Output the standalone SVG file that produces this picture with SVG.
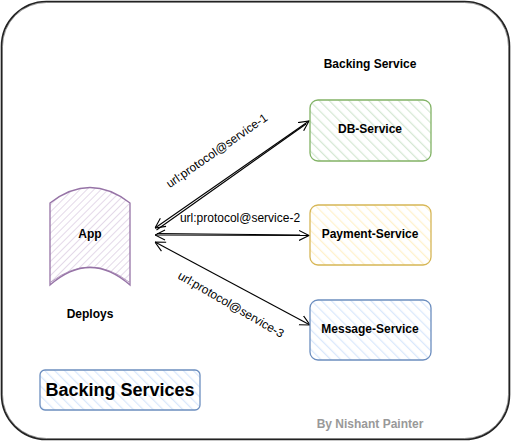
<svg xmlns="http://www.w3.org/2000/svg" width="511" height="441" viewBox="0 0 511 441">
<defs>
<style>
text{font-family:"Liberation Sans",Arial,sans-serif;fill:#000}
.b{font-weight:bold;font-size:12px}
.l{font-size:12px}
.box{stroke-width:1.3}
.edge{fill:none;stroke:#000;stroke-width:1.1}
</style>
<pattern id="hg" patternUnits="userSpaceOnUse" width="7" height="7" patternTransform="rotate(-45)"><rect width="7" height="7" fill="#fff"/><line x1="0" y1="0" x2="0" y2="7" stroke="#d5e8d4" stroke-width="2.5"/></pattern>
<pattern id="hy" patternUnits="userSpaceOnUse" width="7" height="7" patternTransform="rotate(-45)"><rect width="7" height="7" fill="#fff"/><line x1="0" y1="0" x2="0" y2="7" stroke="#fff2cc" stroke-width="2.5"/></pattern>
<pattern id="hb" patternUnits="userSpaceOnUse" width="7" height="7" patternTransform="rotate(-45)"><rect width="7" height="7" fill="#fff"/><line x1="0" y1="0" x2="0" y2="7" stroke="#dae8fc" stroke-width="2.5"/></pattern>
<pattern id="hp" patternUnits="userSpaceOnUse" width="5" height="5" patternTransform="rotate(45)"><rect width="5" height="5" fill="#fff"/><line x1="0" y1="0" x2="0" y2="5" stroke="#e1d5e7" stroke-width="1.8"/></pattern>
<marker id="ae" markerWidth="12" markerHeight="12" refX="10" refY="5" orient="auto" markerUnits="userSpaceOnUse" viewBox="0 0 12 10"><path d="M0,0 L10,5 L0,10" fill="none" stroke="#000" stroke-width="1.1"/></marker>
<marker id="as" markerWidth="12" markerHeight="12" refX="0" refY="5" orient="auto" markerUnits="userSpaceOnUse" viewBox="0 0 12 10"><path d="M10,0 L0,5 L10,10" fill="none" stroke="#000" stroke-width="1.1"/></marker>
</defs>
<g id="frame">
<rect x="1.5" y="1.5" width="508" height="438" rx="45" ry="45" fill="#fff" stroke="#222" stroke-width="1.6"/>
<rect x="2.5" y="2.5" width="506" height="436" rx="44" ry="44" fill="none" stroke="#555" stroke-width="0.6"/>
</g>
<g id="edges">
<line class="edge" x1="155" y1="228" x2="309" y2="121" marker-start="url(#as)" marker-end="url(#ae)"/>
<line class="edge" x1="156.5" y1="230" x2="306" y2="124" stroke-width="0.6"/>
<line class="edge" x1="155" y1="235" x2="309" y2="235.5" marker-start="url(#as)" marker-end="url(#ae)"/>
<line class="edge" x1="157" y1="233.5" x2="300" y2="235" stroke-width="0.6"/>
<line class="edge" x1="155" y1="242" x2="310" y2="325" marker-start="url(#as)" marker-end="url(#ae)"/>
<text class="l" transform="translate(219,154) rotate(-34.8)" text-anchor="middle">url:protocol@service-1</text>
<text class="l" x="240" y="222" text-anchor="middle">url:protocol@service-2</text>
<text class="l" transform="translate(229,308) rotate(30)" text-anchor="middle">url:protocol@service-3</text>
</g>
<g id="app">
<path d="M50,203 Q90,172 130,203 L130,285 Q90,250 50,285 Z" fill="url(#hp)" stroke="#9673a6" stroke-width="1.3"/>
<path d="M51,282 Q90,252 129,282" fill="none" stroke="#9673a6" stroke-width="0.7"/>
<text class="b" x="90" y="238" text-anchor="middle">App</text>
</g>
<g id="deploys"><text class="b" x="90" y="318" text-anchor="middle">Deploys</text></g>
<g id="backing-service-label"><text class="b" x="370" y="68" text-anchor="middle">Backing Service</text></g>
<g id="db">
<rect class="box" x="310" y="100" width="121" height="61" rx="8" fill="url(#hg)" stroke="#82b366"/>
<text class="b" x="370" y="133" text-anchor="middle">DB-Service</text>
</g>
<g id="payment">
<rect class="box" x="310" y="205" width="121" height="60" rx="8" fill="url(#hy)" stroke="#d6b656"/>
<text class="b" x="370" y="238" text-anchor="middle">Payment-Service</text>
</g>
<g id="message">
<rect class="box" x="310" y="300" width="121" height="60" rx="8" fill="url(#hb)" stroke="#6c8ebf"/>
<text class="b" x="370" y="333" text-anchor="middle">Message-Service</text>
</g>
<g id="title">
<rect class="box" x="40" y="370" width="160" height="40" rx="5" fill="url(#hb)" stroke="#6c8ebf"/>
<text x="120" y="396" text-anchor="middle" font-weight="bold" font-size="18">Backing Services</text>
</g>
<g id="author"><text class="b" x="370" y="428" text-anchor="middle" style="fill:#999">By Nishant Painter</text></g>
</svg>
